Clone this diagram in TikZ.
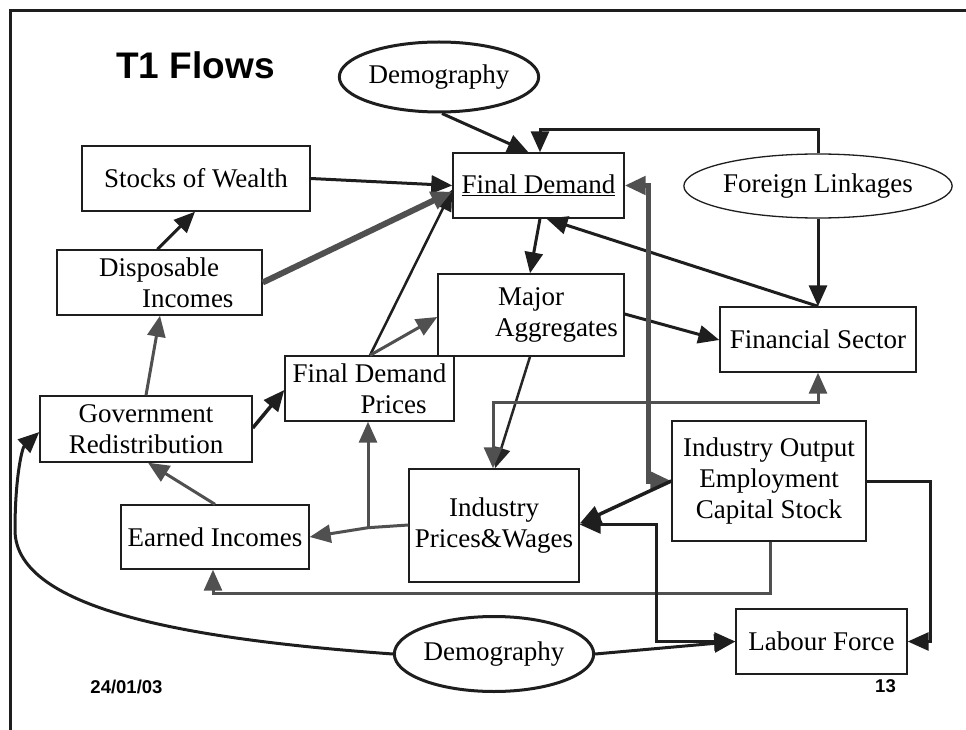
\documentclass[tikz,border=0pt]{standalone}
\usepackage{fontspec}
\setmainfont{Liberation Serif}
\newfontfamily\headfont{Liberation Sans}
\usetikzlibrary{arrows.meta,shapes.geometric,calc}
\definecolor{dk}{HTML}{1E1E1E}
\definecolor{gy}{HTML}{505050}
\begin{document}
\begin{tikzpicture}[x=1pt,y=-1pt,
  box/.style={draw=dk, line width=1.4pt, fill=white, inner sep=0pt, align=center, font=\fontsize{27}{31}\selectfont},
  oval/.style={ellipse, draw=dk, line width=3pt, fill=white, inner sep=0pt, font=\fontsize{27}{31}\selectfont},
  arr/.style={-{Triangle[length=21pt,width=18pt]}, line width=3pt, draw=dk},
  garr/.style={-{Triangle[length=21pt,width=18pt]}, line width=3pt, draw=gy},
  darr/.style={{Triangle[length=21pt,width=18pt]}-{Triangle[length=21pt,width=18pt]}, line width=3pt, draw=dk},
  gdarr/.style={{Triangle[length=21pt,width=18pt]}-{Triangle[length=21pt,width=18pt]}, line width=3pt, draw=gy},
  frame/.style={line width=3pt, draw=dk},
  small/.style={font=\headfont\bfseries\fontsize{18.5}{20}\selectfont, inner sep=0pt}
]
\useasboundingbox (0,0) rectangle (966,730);
\draw[frame] (10,730) coordinate (fa) -- (10,11) coordinate (fb) -- (966,11) coordinate (fc);

\node[font=\headfont\bfseries\fontsize{37}{40}\selectfont, inner sep=0pt] (title) at (195.5,65) {T1 Flows};

\node[oval, minimum width=194pt, minimum height=70pt] (dt) at (439,77) {Demography};
\node[box, minimum width=228pt, minimum height=65pt] (sw) at (196,178.5) {Stocks of Wealth};
\node[box, align=left, minimum width=205pt, minimum height=65pt] (di) at (159.5,282.5) {\hspace*{13.5pt}Disposable\\\hspace*{56.5pt}Incomes};
\node[box, minimum width=212pt, minimum height=66pt] (gr) at (146,429) {Government\\Redistribution};
\node[box, align=left, minimum width=169pt, minimum height=65pt] (fdp) at (369.5,388.5) {Final Demand\\\hspace*{68pt}Prices};
\node[box, minimum width=188pt, minimum height=64pt] (ei) at (215,537) {Earned Incomes};
\node[box, minimum width=170pt, minimum height=113pt] (ipw) at (494,525.5) {Industry\\Prices\&Wages};
\node[box, align=left, minimum width=186pt, minimum height=82pt] (ma) at (531,315) {\hspace*{54pt}Major\\\hspace*{51pt}Aggregates};
\node[box, minimum width=171pt, minimum height=65pt] (fd) at (538.5,185.5) {\underline{Final Demand}};
\node[oval, line width=1.3pt, minimum width=260pt, minimum height=64pt] (fl) at (818,186) {Foreign Linkages};
\node[box, minimum width=196pt, minimum height=65pt] (fs) at (818,339.5) {Financial Sector};
\node[box, minimum width=194pt, minimum height=120pt] (io) at (769,481) {Industry Output\\Employment\\Capital Stock};
\node[box, minimum width=171pt, minimum height=65pt] (lf) at (821.5,641.5) {Labour Force};
\node[oval, minimum width=194pt, minimum height=75pt] (db) at (494,654) {Demography};

\node[small] (date) at (126.5,686.5) {24/01/03};
\node[small] (page) at (885.5,686.5) {13};

% connectors
\draw[arr] ($(dt.south)+(3,0)$) -- ($(fd.north)+(-10,0)$);
\draw[arr] (fl.north) -- ++(0,-24) -| ($(fd.north)+(1.5,0)$);
\draw[arr] (fl.south) -- (fs.north);
\draw[arr] (fs.north) -- ($(fd.south)+(8,0)$);
\draw[arr] ($(fd.south)+(1.5,0)$) -- ($(ma.north)+(-1,0)$);
\draw[arr] (sw.east) -- (fd.west);
\draw[arr, line width=2.5pt] ($(fdp.north)+(0.5,0)$) -- ($(fd.west)+(0,4)$);
\draw[garr, line width=6pt] (di.east) -- ($(fd.west)+(0,6)$);
\draw[arr] ($(di.north)+(-2,0)$) -- ($(sw.south)+(-1,0)$);
\draw[garr] (gr.north) -- ($(di.south)+(0.5,0)$);
\draw[arr, line width=3.5pt] ($(gr.east)+(0,-1)$) -- ($(fdp.west)+(0,1.5)$);
\draw[garr] (ei.north) -- ($(gr.south)+(2,0)$);
\coordinate (j1) at ($(fdp.south)+(-1.5,106)$);
\draw[garr] ($(ipw.west)+(0,-0.5)$) -- (j1) -- (ei.east);
\draw[garr] (j1) -- ($(fdp.south)+(-1.5,0)$);
\draw[garr] ($(fdp.north)+(0.5,0)$) -- ($(ma.west)+(0,2)$);
\draw[arr] ($(ma.east)+(0,-1)$) -- ($(fs.west)+(0,0.5)$);
\draw[garr, draw=dk!85!gy, line width=2.5pt] ($(ma.south)+(-1,0)$) -- ($(ipw.north)+(1,0)$);
\draw[gdarr] (fs.south) |- ($(ipw.north)+(-1,-66)$) -- ($(ipw.north)+(-1,0)$);
\draw[gdarr, line width=5pt] (io.west) -| ($(fd.east)+(24,0)$) -- (fd.east);
\draw[arr, line width=3.5pt] (io.west) -- ($(ipw.east)+(0,-2)$);
\draw[garr] ($(io.south)+(1,0)$) -- ++(0,52) -| ($(ei.south)+(-2,0)$);
\draw[arr] (io.east) -- ++(64,0) |- (lf.east);
\draw[darr] ($(ipw.east)+(0,-1)$) -| ($(lf.west)+(-79,0)$) -- (lf.west);
\draw[arr] (db.east) -- (lf.west);
\draw[arr] (db.west) .. controls (200,640) and (15,612) .. (15,530) .. controls (15,478) and (22,448) .. ($(gr.west)+(0,3)$);
\end{tikzpicture}
\end{document}
